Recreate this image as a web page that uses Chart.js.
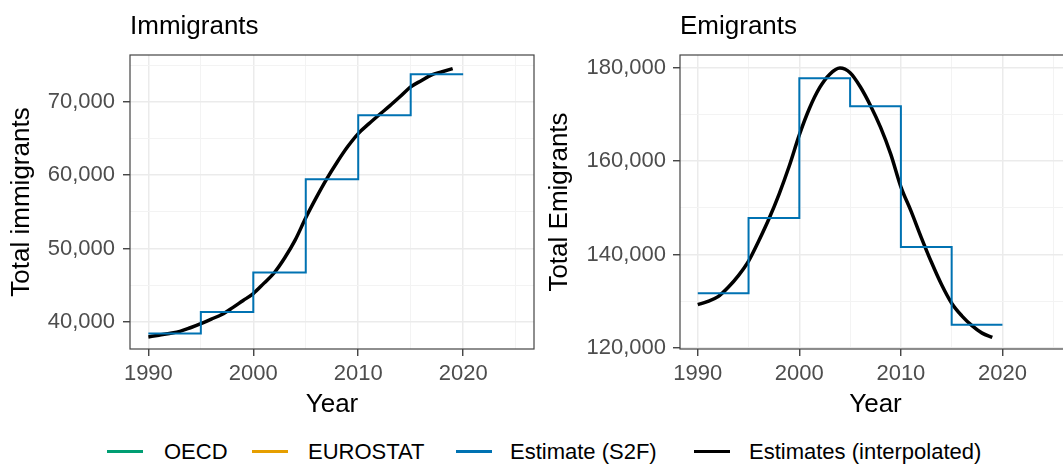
<!DOCTYPE html>
<html>
<head>
<meta charset="utf-8">
<script src="https://cdn.jsdelivr.net/npm/chart.js@4.4.1/dist/chart.umd.min.js"></script>
<style>
  body { margin: 0; width: 1063px; height: 466px; overflow: hidden; background: #fff; position: relative;
         font-family: "Liberation Sans", Arial, sans-serif; }
  canvas { position: absolute; top: 0; }
  #immChart { left: 0; }
  #emiChart { left: 540px; }
  .swatch { position: absolute; top: 450px; width: 36px; height: 3px; }
  .legend-text { position: absolute; top: 439px; font-size: 22px; line-height: 26px; color: #000; white-space: nowrap; }
</style>
</head>
<body>
<canvas id="immChart" width="540" height="420"></canvas>
<canvas id="emiChart" width="531" height="420"></canvas>
<div id="legend"></div>
<script>
// Years for the interpolated curves and for the 5-year step estimates
const years = [1990, 1991, 1992, 1993, 1994, 1995, 1996, 1997, 1998, 1999,
               2000, 2001, 2002, 2003, 2004, 2005, 2006, 2007, 2008, 2009,
               2010, 2011, 2012, 2013, 2014, 2015, 2016, 2017, 2018, 2019];
const stepYears = [1990, 1995, 2000, 2005, 2010, 2015, 2020];

// Estimate (S2F), one value per 5-year period
const immigrantsStep = [38410, 41360, 46730, 59450, 68180, 73770];
const emigrantsStep = [131740, 147830, 177720, 171740, 141640, 124980];

// Estimates (interpolated), yearly
const immigrantsInterp = [37950, 38180, 38420, 38700, 39200, 39770, 40380, 41010, 41910, 42890,
                          43860, 45250, 46700, 48740, 51180, 54200, 56940, 59500, 61810, 63910,
                          65680, 67000, 68250, 69460, 70740, 72050, 72900, 73700, 74120, 74550];
const emigrantsInterp = [129300, 130000, 131000, 133000, 135500, 138600, 142900, 147600, 152900, 158900,
                         165600, 171300, 175700, 178600, 179900, 178900, 175900, 171900, 167200, 161500,
                         154500, 149300, 143700, 138400, 133600, 129600, 126900, 124800, 123200, 122300];

// Tick positions and labelled ticks
const xTicks = [1990, 1995, 2000, 2005, 2010, 2015, 2020, 2025];
const xLabels = [1990, 2000, 2010, 2020];
const immYTicks = [40000, 45000, 50000, 55000, 60000, 65000, 70000, 75000];
const immYLabels = [40000, 50000, 60000, 70000];
const emiYTicks = [120000, 130000, 140000, 150000, 160000, 170000, 180000];
const emiYLabels = [120000, 140000, 160000, 180000];

const legendLabels = ['OECD', 'EUROSTAT', 'Estimate (S2F)', 'Estimates (interpolated)'];

Chart.defaults.font.family = '"Liberation Sans", Arial, sans-serif';

// panel border + panel title (ggplot style)
const panelDecor = {
    id: 'panelDecor',
    afterDraw(chart, args, opts) {
        const ctx = chart.ctx;
        const a = chart.chartArea;
        ctx.save();
        ctx.strokeStyle = '#444';
        ctx.lineWidth = 1.2;
        ctx.strokeRect(a.left, a.top, a.right - a.left, a.bottom - a.top);
        ctx.fillStyle = '#000';
        ctx.font = '26px "Liberation Sans", Arial, sans-serif';
        ctx.textAlign = 'left';
        ctx.textBaseline = 'alphabetic';
        ctx.fillText(opts.text, a.left, 34);
        ctx.restore();
    }
};

function gridStyle(majors) {
    return {
        color: c => majors.includes(c.tick.value) ? '#EBEBEB' : '#F3F3F3',
        lineWidth: c => majors.includes(c.tick.value) ? 1.5 : 1,
        tickColor: c => majors.includes(c.tick.value) ? '#333' : 'rgba(0,0,0,0)',
        tickWidth: 1.3,
        tickLength: 7
    };
}

function makeChart(id, cfg) {
    const stepData = stepYears.map((x, i) => ({ x: x, y: cfg.step[Math.min(i, cfg.step.length - 1)] }));
    const interpData = years.map((x, i) => ({ x: x, y: cfg.interp[i] }));

    return new Chart(document.getElementById(id), {
        type: 'line',
        data: {
            datasets: [{
                label: 'Estimate (S2F)',
                data: stepData,
                borderColor: '#0072B2',
                borderWidth: 2,
                stepped: 'before',
                pointRadius: 0
            }, {
                label: 'Estimates (interpolated)',
                data: interpData,
                borderColor: '#000000',
                borderWidth: 3.5,
                cubicInterpolationMode: 'monotone',
                pointRadius: 0
            }]
        },
        plugins: [panelDecor],
        options: {
            responsive: false,
            animation: false,
            devicePixelRatio: 1,
            layout: { padding: { top: 55, right: cfg.padRight, bottom: 0, left: 0 } },
            plugins: {
                legend: { display: false },
                tooltip: { enabled: false },
                panelDecor: { text: cfg.title }
            },
            scales: {
                x: {
                    type: 'linear',
                    min: 1988.25,
                    max: 2026.75,
                    afterBuildTicks: s => { s.ticks = xTicks.map(v => ({ value: v })); },
                    afterFit: s => { s.height = 71; },
                    ticks: {
                        autoSkip: false,
                        maxRotation: 0,
                        padding: 5,
                        color: '#4D4D4D',
                        font: { size: 22 },
                        callback: v => xLabels.includes(v) ? String(v) : ''
                    },
                    grid: gridStyle(xLabels),
                    border: { display: false },
                    title: { display: true, text: 'Year', color: '#000', font: { size: 26 }, padding: { top: 0, bottom: 0 } }
                },
                y: {
                    type: 'linear',
                    min: cfg.yMin,
                    max: cfg.yMax,
                    afterBuildTicks: s => { s.ticks = cfg.yTicks.map(v => ({ value: v })); },
                    afterFit: s => { s.width = cfg.yWidth; },
                    ticks: {
                        autoSkip: false,
                        padding: cfg.tickPad,
                        color: '#4D4D4D',
                        font: { size: 22 },
                        callback: v => cfg.yLabels.includes(v) ? v.toLocaleString('en-US') : ''
                    },
                    grid: gridStyle(cfg.yLabels),
                    border: { display: false },
                    title: { display: true, text: cfg.yTitle, color: '#000', font: { size: 26 }, padding: { top: cfg.titlePad, bottom: 0 } }
                }
            }
        }
    });
}

makeChart('immChart', {
    title: 'Immigrants', yTitle: 'Total immigrants',
    step: immigrantsStep, interp: immigrantsInterp,
    yMin: 36300, yMax: 76400, yTicks: immYTicks, yLabels: immYLabels,
    yWidth: 130, tickPad: 8, titlePad: 6, padRight: 6
});

makeChart('emiChart', {
    title: 'Emigrants', yTitle: 'Total Emigrants',
    step: emigrantsStep, interp: emigrantsInterp,
    yMin: 119800, yMax: 182700, yTicks: emiYTicks, yLabels: emiYLabels,
    yWidth: 140, tickPad: 7, titlePad: 4, padRight: 0
});

// shared legend below both panels
const legendColors = ['#009E73', '#E69F00', '#0072B2', '#000000'];
const legendSwatchX = [107, 252, 456, 694];
const legendTextX = [164, 308, 510, 749];
const legend = document.getElementById('legend');
legendLabels.forEach(function(label, i) {
    const sw = document.createElement('div');
    sw.className = 'swatch';
    sw.style.left = legendSwatchX[i] + 'px';
    sw.style.background = legendColors[i];
    legend.appendChild(sw);

    const tx = document.createElement('span');
    tx.className = 'legend-text';
    tx.style.left = legendTextX[i] + 'px';
    tx.textContent = label;
    legend.appendChild(tx);
});
</script>
</body>
</html>
